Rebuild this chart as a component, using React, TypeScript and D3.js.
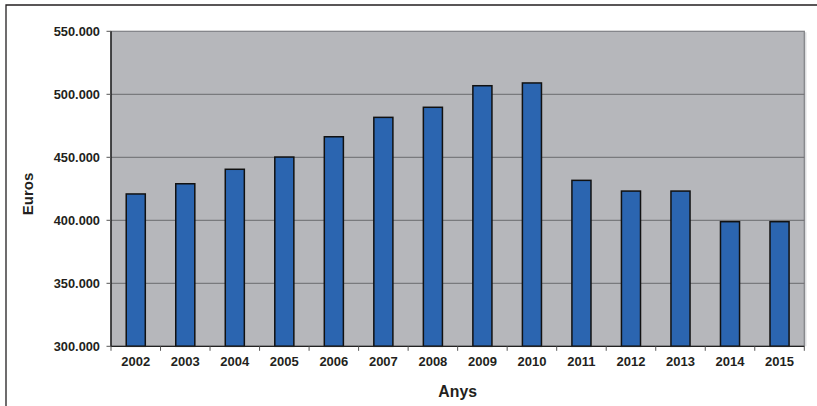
import React from "react";
import * as d3 from "d3";

const years = ["2002","2003","2004","2005","2006","2007","2008","2009","2010","2011","2012","2013","2014","2015"];
const euros = [420900, 429000, 440500, 450200, 466300, 481700, 489700, 506800, 509000, 431700, 423200, 423200, 398900, 398900];
const yTicks = [300000, 350000, 400000, 450000, 500000, 550000];

const W = 817, H = 406;
const left = 111, right = 804.3, top = 31.3, bottom = 346.3;
const font = "'Liberation Sans', Arial, sans-serif";
const fmt = (v: number) => d3.format(",.3f")(v / 1000).replace(",", "");

export default function App() {
  const x = d3.scaleBand<string>().domain(years).range([left, right]).paddingInner(0).paddingOuter(0);
  const y = d3.scaleLinear().domain([300000, 550000]).range([bottom, top]);
  const bw = x.bandwidth() * 0.385;
  const boundaries = years.map((d) => x(d)!).concat([right]);
  return (
    <svg width={W} height={H} style={{ position: "absolute", left: 0, top: 0, background: "#fff" }}>
      <path d={`M6,${H + 5}V5H${W}`} fill="none" stroke="#231f20" strokeWidth={1.3} />
      <rect x={left} y={top} width={right - left} height={bottom - top} fill="#b6b7bb" stroke="#7e7f83" strokeWidth={1.2} />
      <line x1={right + 1.5} x2={right + 1.5} y1={top + 1} y2={bottom} stroke="#d4d5d8" strokeWidth={1.2} />
      {yTicks.slice(1, -1).map((t) => (
        <line key={t} x1={left} x2={right} y1={y(t)} y2={y(t)} stroke="#6b6b6e" strokeWidth={1} />
      ))}
      {years.map((d, i) => (
        <rect key={d} x={x(d)! + (x.bandwidth() - bw) / 2} y={y(euros[i])} width={bw} height={bottom - y(euros[i])}
          fill="#2b65b0" stroke="#111" strokeWidth={1.5} />
      ))}
      <line x1={left} x2={left} y1={top} y2={bottom} stroke="#111" strokeWidth={1.3} />
      <line x1={left} x2={right} y1={bottom} y2={bottom} stroke="#222" strokeWidth={1.3} />
      {yTicks.map((t) => (
        <g key={t}>
          <line x1={left - 4.5} x2={left} y1={y(t)} y2={y(t)} stroke="#555" strokeWidth={1} />
          <text x={100} y={y(t)} dy="0.36em" textAnchor="end" fontFamily={font} fontWeight="bold" fontSize={12.8} fill="#231f20">{fmt(t)}</text>
        </g>
      ))}
      {boundaries.map((b, i) => (
        <line key={i} x1={b} x2={b} y1={bottom} y2={bottom + 4.5} stroke="#555" strokeWidth={1} />
      ))}
      {years.map((d) => (
        <text key={d} x={x(d)! + x.bandwidth() / 2} y={365.5} textAnchor="middle" fontFamily={font} fontWeight="bold" fontSize={13} fill="#231f20">{d}</text>
      ))}
      <text x={(left + right) / 2} y={396.5} textAnchor="middle" fontFamily={font} fontWeight="bold" fontSize={15.8} fill="#231f20">Anys</text>
      <text transform="translate(32.5,194) rotate(-90)" textAnchor="middle" fontFamily={font} fontWeight="bold" fontSize={15} fill="#231f20">Euros</text>
    </svg>
  );
}
